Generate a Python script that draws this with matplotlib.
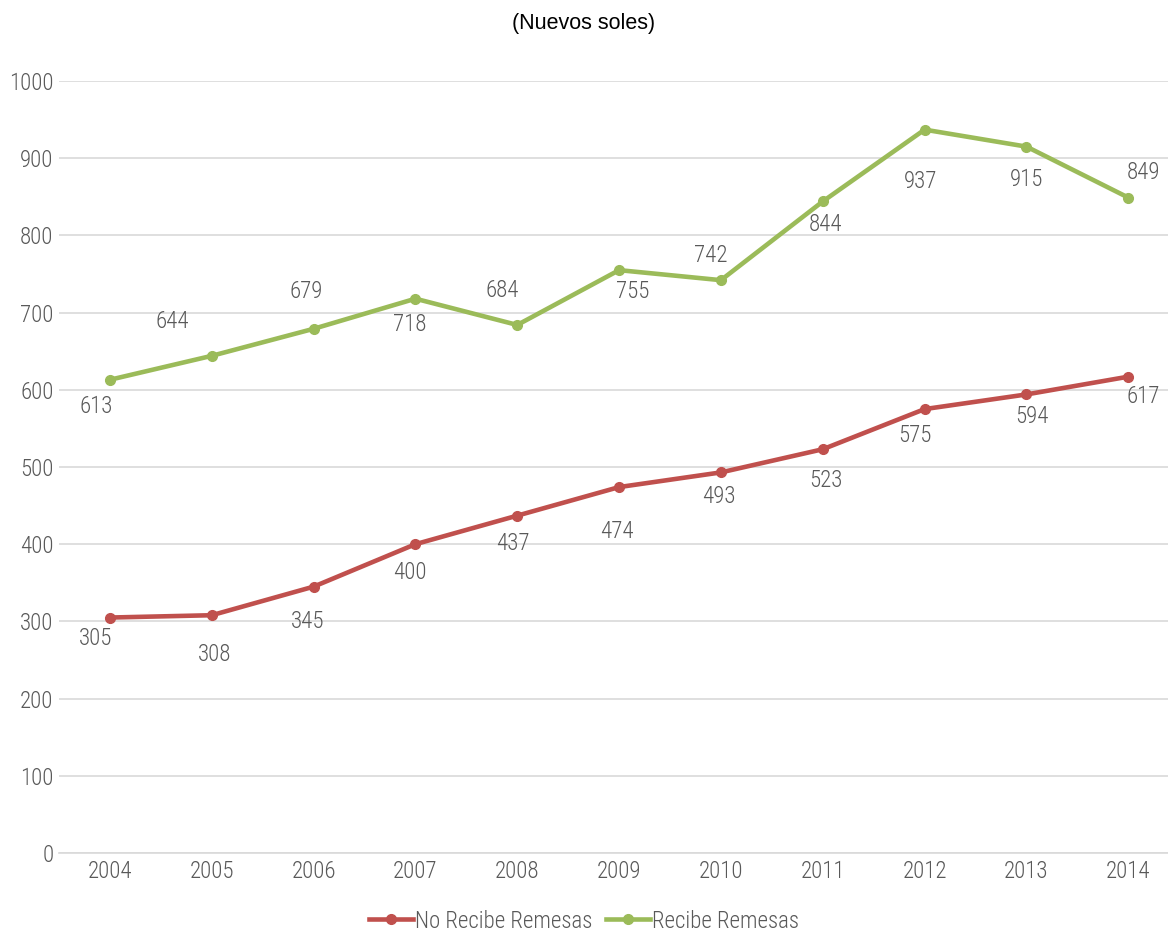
import matplotlib.pyplot as plt
from matplotlib import font_manager

years = ['2004', '2005', '2006', '2007', '2008', '2009', '2010', '2011', '2012', '2013', '2014']
no_recibe = [305, 308, 345, 400, 437, 474, 493, 523, 575, 594, 617]
recibe = [613, 644, 679, 718, 684, 755, 742, 844, 937, 915, 849]

# label offsets in pixels (dx, dy) relative to the point
off_no = [(-14, -21), (3, -39), (-6, -35), (-6, -28), (-4, -28), (-2, -44),
          (-2, -24), (3, -31), (-10, -26), (5, -22), (15, -20)]
off_si = [(-14, -27), (-39, 34), (-7, 37), (-6, -26), (-15, 34), (14, -21),
          (-10, 25), (3, -23), (-4, -52), (0, -33), (15, 25)]

names = sorted({f.name for f in font_manager.fontManager.ttflist})
font = 'DejaVu Sans'
for cand in ['Roboto Condensed', 'Liberation Sans Narrow', 'Arial Narrow',
             'Open Sans Condensed', 'Noto Sans Condensed', 'Roboto']:
    if cand in names:
        font = cand
        break
plt.rcParams['font.family'] = [font, 'DejaVu Sans']
plt.rcParams['font.weight'] = 'light'

red = '#C0504D'
green = '#9BBB59'
gray = '#595959'
fs = 16.5

fig = plt.figure(figsize=(11.68, 9.33), dpi=100)
ax = fig.add_axes([59 / 1168, 80 / 933, 1 - 59 / 1168, 772 / 933])

x = list(range(len(years)))
ax.plot(x, no_recibe, color=red, lw=3.3, marker='o', ms=7, label='No Recibe Remesas')
ax.plot(x, recibe, color=green, lw=3.3, marker='o', ms=7, label='Recibe Remesas')

for xi, v, (dx, dy) in zip(x, no_recibe, off_no):
    ax.annotate(str(v), (xi, v), xytext=(dx, dy), textcoords='offset pixels',
                ha='center', va='center', fontsize=fs, color=gray)
for xi, v, (dx, dy) in zip(x, recibe, off_si):
    ax.annotate(str(v), (xi, v), xytext=(dx, dy), textcoords='offset pixels',
                ha='center', va='center', fontsize=fs, color=gray)

ax.set_xlim(-0.5, 10.39)
ax.set_ylim(0, 1000)
ax.set_yticks(range(0, 1001, 100))
ax.set_xticks(x)
ax.set_xticklabels(years)
ax.grid(axis='y', color='#D9D9D9', lw=1.2)
ax.set_axisbelow(True)
for s in ['top', 'right', 'left']:
    ax.spines[s].set_visible(False)
ax.spines['bottom'].set_color('#D9D9D9')
ax.spines['bottom'].set_linewidth(1.2)
ax.tick_params(axis='both', length=0, labelsize=fs, labelcolor=gray)
ax.tick_params(axis='y', pad=4)
ax.tick_params(axis='x', pad=5)

fig.text(0.5, 1 - 23 / 933, '(Nuevos soles)', ha='center', va='center',
         fontsize=15.5, family='Liberation Sans', weight='normal', color='black')

fig.legend(loc='center', bbox_to_anchor=(0.5, 1 - 921 / 933), ncol=2, frameon=False,
           fontsize=fs, labelcolor=gray, handlelength=1.9, handletextpad=0.1,
           columnspacing=0.6)

fig.savefig('out.png', dpi=100)
